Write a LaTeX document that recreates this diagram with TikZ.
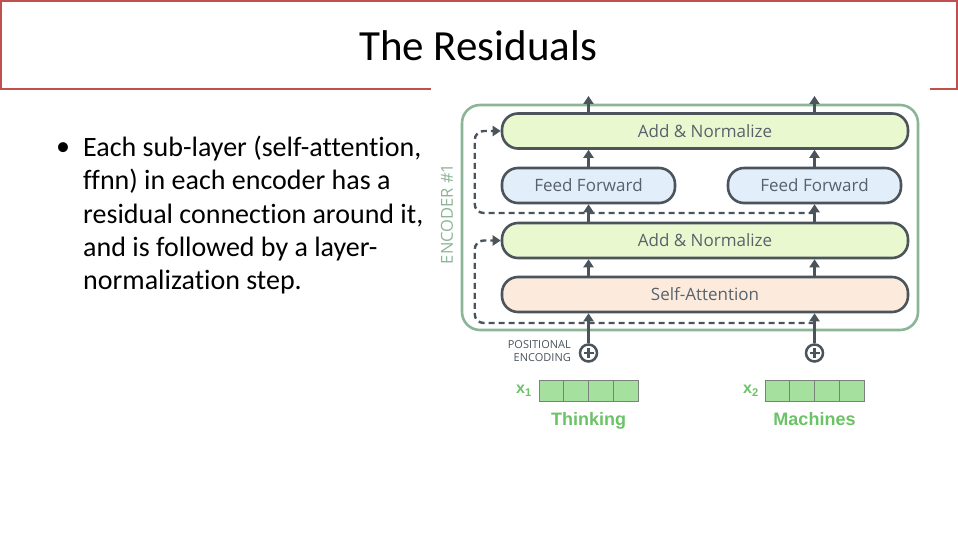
\documentclass[tikz,border=0pt]{standalone}
\usepackage{fontspec}
\setmainfont{Carlito}[Ligatures=NoCommon]
\newfontfamily\diagfont{Open Sans}
\newfontfamily\wordfont{Liberation Sans}
\usetikzlibrary{positioning,arrows.meta}

\definecolor{slidered}{HTML}{C0504D}
\definecolor{linegray}{HTML}{4B535B}
\definecolor{textgray}{HTML}{59626B}
\definecolor{anfill}{HTML}{EAF8D0}
\definecolor{fffill}{HTML}{E2EEFA}
\definecolor{safill}{HTML}{FCEBDD}
\definecolor{encgreen}{HTML}{8CB497}
\definecolor{vecfill}{HTML}{A6E09E}
\definecolor{cellgray}{HTML}{7A807A}
\definecolor{wordgreen}{HTML}{6BC267}

\begin{document}
\begin{tikzpicture}[x=1pt,y=-1pt,>={Triangle[width=10pt,length=8pt]},
    box/.style={draw=linegray,line width=2.6pt,rounded corners=16pt,inner sep=0pt,
      minimum height=35pt,text=textgray,font=\diagfont\fontsize{17}{20}\selectfont},
    flow/.style={->,draw=linegray,line width=2.6pt},
    res/.style={->,draw=linegray,line width=2.4pt,dash pattern=on 6pt off 4pt,rounded corners=9pt},
    cell/.style={draw=cellgray,line width=1pt,fill=vecfill,minimum width=24.75pt,
      minimum height=21pt,inner sep=0pt},
    wordlab/.style={text=wordgreen,font=\wordfont\bfseries\fontsize{18}{21}\selectfont}]
  \useasboundingbox (0,0) rectangle (958,540);
  %%%%% THE SLIDE
  \draw[slidered,line width=2pt] (431,89) -- (1,89) -- (1,1) -- (957,1) -- (957,89) -- (930,89);
  \node[font=\fontsize{43}{47}\selectfont] (TITLE) at (478,46) {The Residuals};
  \node[font=\fontsize{28}{30}\selectfont] (BUL) at (63,149) {\textbullet};
  \node[anchor=north west,align=left,inner sep=0pt,font=\fontsize{28}{33.3}\selectfont] (BODY) at (83,136)
    {Each sub-layer (self-attention,\\
      ffnn) in each encoder has a\\
      residual connection around it,\\
      and is followed by a layer-\\
      normalization step.};
  %%%%% THE ENCODER
  \node[draw=encgreen,line width=2.6pt,rounded corners=18pt,minimum width=456pt,
    minimum height=225pt,inner sep=0pt] (ENC) at (690,217.5) {};
  \node[rotate=90,text=encgreen,font=\diagfont\fontsize{16.5}{18}\selectfont] (ENCLAB) at (447,214) {ENCODER \#1};
  \node[box,fill=anfill,minimum width=406pt] (AN2) at (705,131) {Add \& Normalize};
  \node[box,fill=fffill,minimum width=173pt] (FF1) at (588.5,185.5) {Feed Forward};
  \node[box,fill=fffill,minimum width=173pt] (FF2) at (814.5,185.5) {Feed Forward};
  \node[box,fill=anfill,minimum width=406pt] (AN1) at (705,240.5) {Add \& Normalize};
  \node[box,fill=safill,minimum width=406pt] (SA) at (705,294.5) {Self-Attention};
  %%%%% THE INPUTS
  \node[circle,draw=linegray,line width=2.5pt,minimum size=17pt,inner sep=0pt] (P1) at (588.5,353) {};
  \node[circle,draw=linegray,line width=2.5pt,minimum size=17pt,inner sep=0pt] (P2) at (814.5,353) {};
  \foreach \p in {P1,P2} {
    \draw[linegray,line width=2.5pt] (\p.center) ++(-5,0) -- ++(10,0);
    \draw[linegray,line width=2.5pt] (\p.center) ++(0,-5) -- ++(0,10);
  }
  \node[anchor=east,align=right,inner sep=0pt,text=linegray,
    font=\diagfont\fontsize{11}{12.5}\selectfont] (POS) at (571,351) {POSITIONAL\\ENCODING};
  \foreach \i in {0,...,3} {
    \node[cell] (XA\i) at (551.4+24.75*\i,390.5) {};
    \node[cell] (XB\i) at (777.4+24.75*\i,390.5) {};
  }
  \node[wordlab,font=\wordfont\bfseries\fontsize{16}{18}\selectfont] (XALAB) at (524,391) {x\textsubscript{1}};
  \node[wordlab,font=\wordfont\bfseries\fontsize{16}{18}\selectfont] (XBLAB) at (751,391) {x\textsubscript{2}};
  \node[wordlab,anchor=base] (WA) at (588.5,425) {Thinking};
  \node[wordlab,anchor=base] (WB) at (814.5,425) {Machines};
  %%%% THE FLOW THROUGH THE LAYERS
  \coordinate (OUT1) at (588.5,96);
  \coordinate (OUT2) at (814.5,96);
  \foreach \p/\f/\o in {P1/FF1/OUT1,P2/FF2/OUT2} {
    \draw[flow] (\p.north) -- (SA.south -| \p);
    \draw[flow] (SA.north -| \p) -- (AN1.south -| \p);
    \draw[flow] (AN1.north -| \p) -- (\f.south);
    \draw[flow] (\f.north) -- (AN2.south -| \p);
    \draw[flow] (AN2.north -| \p) -- (\o);
  }
  %%%% RESIDUAL CONNECTIONS
  \coordinate (R1) at (814.5,323);
  \coordinate (R2) at (814.5,213);
  \draw[res] (R1) -| ([xshift=-26pt]AN1.west) -- (AN1.west);
  \draw[res] (R2) -| ([xshift=-26pt]AN2.west) -- (AN2.west);
\end{tikzpicture}
\end{document}
